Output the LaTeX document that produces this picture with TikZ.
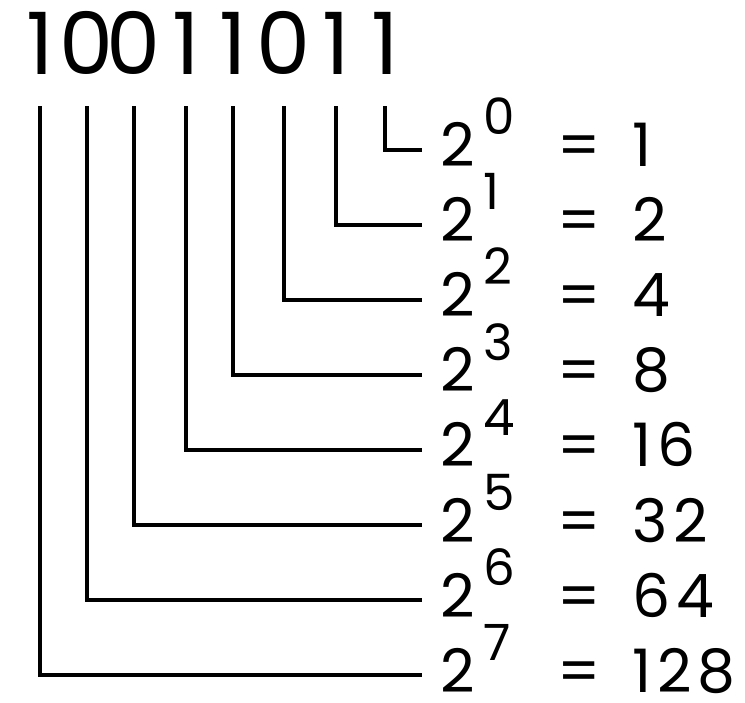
\documentclass[tikz,border=0pt]{standalone}
\usepackage{fontspec}
\setmainfont{Poppins}
\newfontfamily\widefont{Poppins}[LetterSpace=9]
\usetikzlibrary{positioning}
\tikzset{
  bit/.style  ={inner sep=0pt, anchor=base, font=\fontsize{86}{86}\selectfont},
  pw/.style   ={inner sep=0pt, anchor=base west, font=\fontsize{60}{60}\selectfont},
  val/.style  ={inner sep=0pt, anchor=base west, font=\widefont\fontsize{60}{60}\selectfont},
  wire/.style ={line width=3.4pt, line cap=rect, line join=miter},
}
\newcommand{\supx}[1]{\raisebox{32pt}{\fontsize{50}{50}\selectfont #1}}

\begin{document}
\begin{tikzpicture}[x=1pt, y=-1pt]
  \useasboundingbox (0,0) rectangle (745,703);
  % ---- the bit string, one node per digit
  \foreach \d/\x [count=\k] in {1/40,0/87,0/134,1/186,1/233,0/284,1/336,1/385}
    \node[bit] (b\k) at (\x,75) {\d};
  % ---- powers of two and their values
  \foreach \v [count=\i from 0] in {1,2,4,8,16,32,64,128} {
    \coordinate (e\i) at (420,150+75*\i);
    \node[pw]  (p\i) at ([xshift=20pt,yshift=-17pt]e\i) {2\hspace{9pt}\supx{\i}};
    \node[val] (v\i) at ([xshift=137pt,yshift=-17pt]e\i) {=\hspace{32pt}\v};
  }
  % ---- wires from each bit down to its power
  \foreach \k in {1,...,8} {
    \pgfmathtruncatemacro{\e}{8-\k}
    \coordinate (t\k) at ([yshift=-33pt]b\k.south);
    \draw[wire] (t\k) |- (e\e);
  }
\end{tikzpicture}
\end{document}
